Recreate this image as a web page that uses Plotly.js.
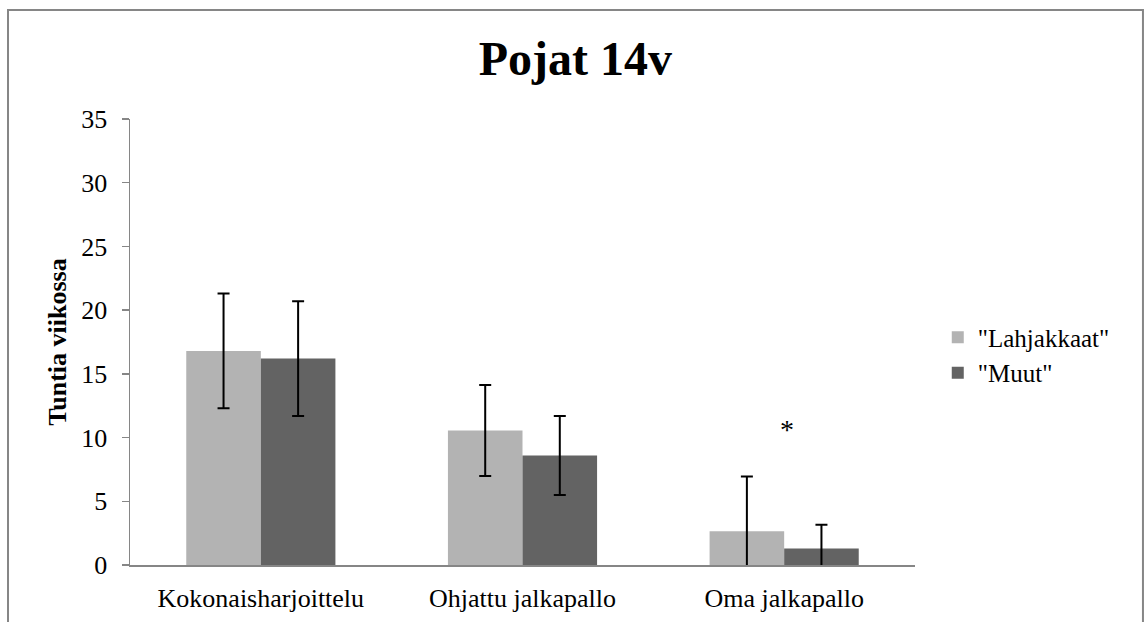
<!DOCTYPE html>
<html>
<head>
<meta charset="utf-8">
<script src="https://cdn.plot.ly/plotly-3.0.1.min.js"></script>
<style>html,body{margin:0;padding:0;background:#fff;}#chart{width:1146px;height:622px;}</style>
</head>
<body>
<div id="chart"></div>
<script>
const categories = ["Kokonaisharjoittelu", "Ohjattu jalkapallo", "Oma jalkapallo"];
const seriesNames = ["\"Lahjakkaat\"", "\"Muut\""];
const lahjakkaat = [16.8, 10.55, 2.65];
const lahjakkaatErrPlus = [4.5, 3.57, 4.3];
const lahjakkaatErrMinus = [4.5, 3.57, 4.3];
const muut = [16.2, 8.6, 1.3];
const muutErrPlus = [4.5, 3.1, 1.85];
const muutErrMinus = [4.5, 3.1, 1.85];
const yTicks = [0, 5, 10, 15, 20, 25, 30, 35];
const significance = {category: "Oma jalkapallo", y: 10.6, text: "*"};

const serif = "Liberation Serif, Times New Roman, serif";
const errStyle = {type: "data", symmetric: false, color: "#000", thickness: 2, width: 6};

const traces = [
  {type: "bar", name: seriesNames[0], x: categories, y: lahjakkaat,
   marker: {color: "#b3b3b3", line: {width: 0}},
   error_y: Object.assign({array: lahjakkaatErrPlus, arrayminus: lahjakkaatErrMinus}, errStyle)},
  {type: "bar", name: seriesNames[1], x: categories, y: muut,
   marker: {color: "#636363", line: {width: 0}},
   error_y: Object.assign({array: muutErrPlus, arrayminus: muutErrMinus}, errStyle)}
];

const layout = {
  width: 1146, height: 622,
  margin: {l: 130, r: 231, t: 119, b: 57},
  paper_bgcolor: "#fff", plot_bgcolor: "#fff",
  font: {family: serif, size: 26, color: "#000"},
  title: {text: "<b>Pojat 14v</b>", font: {family: serif, size: 48, color: "#000"},
          x: 0.502, xref: "container", y: 0.907, yref: "container", yanchor: "middle"},
  barmode: "group", bargap: 0.43, bargroupgap: 0,
  showlegend: true,
  legend: {x: 1.029, xanchor: "left", y: 0.471, yanchor: "middle", itemwidth: 30,
           font: {family: serif, size: 25, color: "#000"}, tracegroupgap: 0, bgcolor: "rgba(0,0,0,0)"},
  xaxis: {type: "category", showline: true, linecolor: "#868686", linewidth: 2,
          ticks: "", showgrid: false, zeroline: false, fixedrange: true,
          tickfont: {family: serif, size: 26, color: "#000"}, ticklabelstandoff: 9},
  yaxis: {range: [0, 35], tickvals: yTicks, ticktext: yTicks.map(String),
          showline: true, linecolor: "#868686", linewidth: 1.5,
          ticks: "outside", ticklen: 7, tickcolor: "#868686", tickwidth: 1.5,
          showgrid: false, zeroline: false, fixedrange: true, ticklabelstandoff: 9,
          tickfont: {family: serif, size: 26, color: "#000"},
          title: {text: "<b>Tuntia viikossa</b>", font: {family: serif, size: 26, color: "#000"}, standoff: 7}},
  annotations: [{x: significance.category, y: significance.y, xref: "x", yref: "y", xshift: 3,
                 text: significance.text, showarrow: false, font: {family: serif, size: 28, color: "#000"}}],
  shapes: [{type: "rect", xref: "paper", yref: "paper", x0: -0.1554, x1: 1.2904, y0: -0.2, y1: 1.2444,
            line: {color: "#868686", width: 2}, fillcolor: "rgba(0,0,0,0)", layer: "below"}]
};

Plotly.newPlot("chart", traces, layout, {displayModeBar: false, staticPlot: true});
</script>
</body>
</html>
